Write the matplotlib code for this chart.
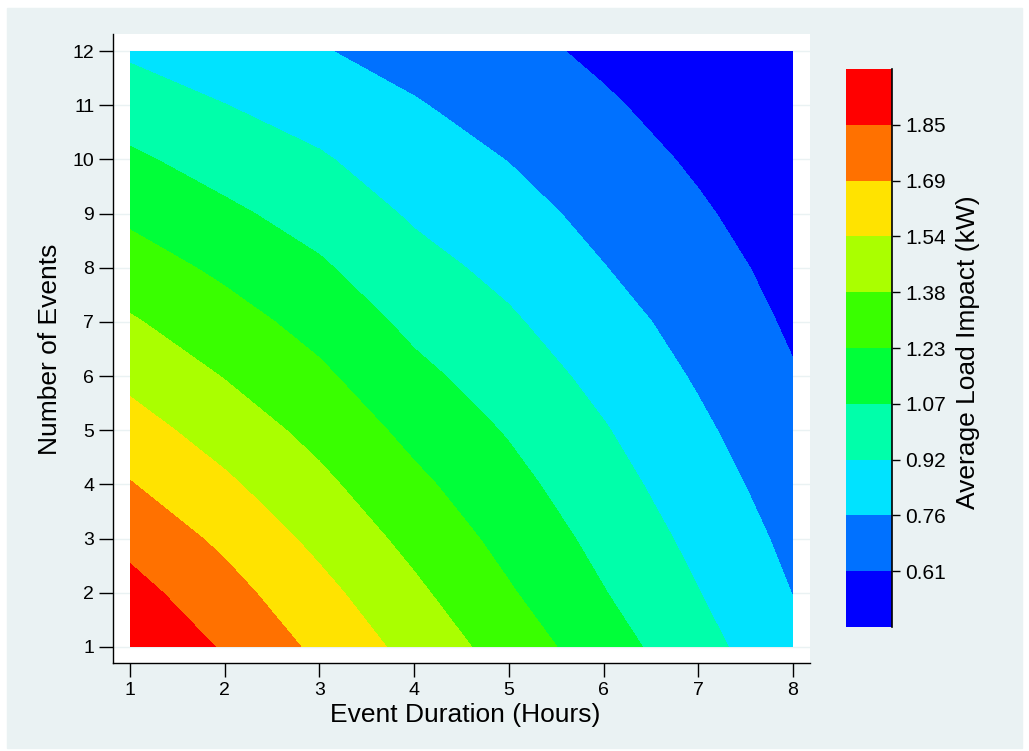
import numpy as np
import matplotlib.pyplot as plt
from matplotlib.colors import hsv_to_rgb
from matplotlib.patches import Rectangle

plt.rcParams['font.family'] = ['Liberation Sans', 'DejaVu Sans']

# Event duration (hours) and number of events
duration = [1, 2, 3, 4, 5, 6, 7, 8]
events = [1, 2, 3, 4, 5, 6, 7, 8, 9, 10, 11, 12]

# average load impact (kW), one row per number of events
impact = [
    [2.000, 1.828, 1.657, 1.485, 1.313, 1.141, 0.970, 0.798],
    [1.899, 1.745, 1.580, 1.410, 1.240, 1.077, 0.920, 0.758],
    [1.799, 1.658, 1.496, 1.335, 1.177, 1.026, 0.876, 0.723],
    [1.698, 1.561, 1.415, 1.259, 1.117, 0.976, 0.832, 0.687],
    [1.598, 1.467, 1.334, 1.183, 1.058, 0.926, 0.788, 0.652],
    [1.497, 1.374, 1.252, 1.108, 0.996, 0.873, 0.745, 0.616],
    [1.396, 1.285, 1.173, 1.035, 0.935, 0.819, 0.705, 0.585],
    [1.296, 1.195, 1.090, 0.965, 0.875, 0.765, 0.665, 0.557],
    [1.195, 1.099, 1.010, 0.897, 0.815, 0.717, 0.624, 0.529],
    [1.095, 1.008, 0.931, 0.834, 0.757, 0.671, 0.585, 0.502],
    [0.994, 0.918, 0.850, 0.771, 0.702, 0.624, 0.547, 0.476],
    [0.893, 0.828, 0.769, 0.711, 0.647, 0.578, 0.509, 0.451],
]

cbar_labels = ['0.61', '0.76', '0.92', '1.07', '1.23', '1.38', '1.54', '1.69', '1.85']

Z = np.array(impact)
X, Y = np.meshgrid(duration, events)
levels = np.linspace(Z.min(), Z.max(), 11)

# blue -> red through the hue circle, like Stata's default contour colours
hues = np.linspace(240, 0, 10) / 360
colors = [hsv_to_rgb((h, 1, 1)) for h in hues]

W, H = 1029, 751
fig = plt.figure(figsize=(W / 100, H / 100), dpi=100)
fig.patch.set_facecolor('white')
fig.add_artist(Rectangle((7 / W, 3 / H), 1015 / W, 740 / H,
                         transform=fig.transFigure, color='#eaf2f3', zorder=0))

ax = fig.add_axes([113 / W, 1 - 663 / H, 697 / W, 629 / H])
ax.set_facecolor('white')
cs = ax.contourf(X, Y, Z, levels=levels, colors=colors)

ax.set_xlim(1 - 17 / 94.71, 8 + 17 / 94.71)
ax.set_ylim(1 - 16 / 54.18, 12 + 17 / 54.18)
ax.set_xticks(duration)
ax.set_yticks(events)
ax.tick_params(direction='out', length=10, width=1, labelsize=14, colors='black')
ax.grid(axis='y', color='#eaf2f3', lw=1)
ax.set_axisbelow(True)
for s in ['top', 'right']:
    ax.spines[s].set_visible(False)
for s in ['left', 'bottom']:
    ax.spines[s].set_linewidth(1)

# legend bar
cax = fig.add_axes([846 / W, 1 - 627 / H, 46 / W, 558 / H])
cb = fig.colorbar(cs, cax=cax, ticks=levels[1:-1])
cb.ax.set_yticklabels(cbar_labels)
cb.outline.set_visible(False)
cax.tick_params(length=6, width=1, labelsize=15)
cax.plot([1, 1], [0, 1], transform=cax.transAxes, color='black', lw=1.2, clip_on=False)

fig.text(465 / W, 1 - 715 / H, 'Event Duration (Hours)', ha='center', va='center', fontsize=19)
fig.text(50 / W, 1 - 349 / H, 'Number of Events', ha='center', va='center',
         rotation=90, fontsize=19)
fig.text(968 / W, 1 - 352 / H, 'Average Load Impact (kW)', ha='center', va='center',
         rotation=90, fontsize=19)

fig.savefig('out.png', dpi=100)
